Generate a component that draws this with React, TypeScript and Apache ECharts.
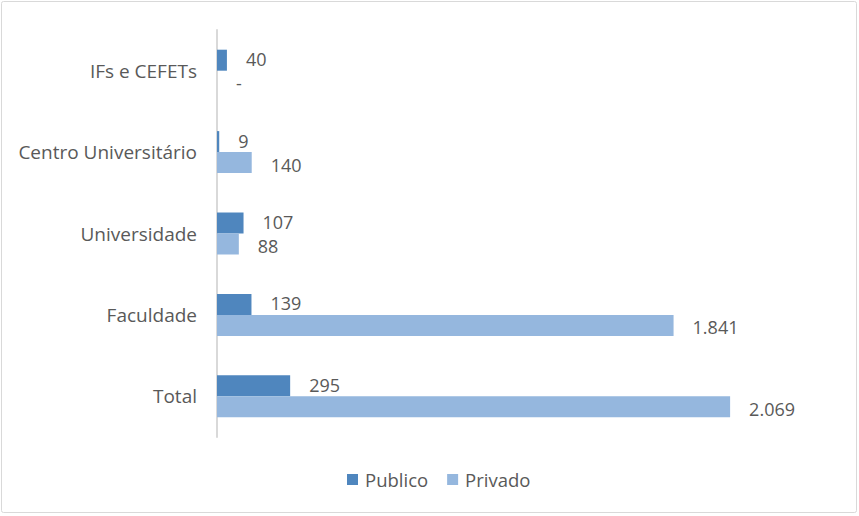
import React, { useEffect, useRef } from "react";
import * as echarts from "echarts";

const categories = ["Total", "Faculdade", "Universidade", "Centro Universitário", "IFs e CEFETs"];
const publico = [295, 139, 107, 9, 40];
const privado = [2069, 1841, 88, 140, 0];
const seriesNames = ["Publico", "Privado"];

const fmt = (v: number) => (v === 0 ? "-" : v.toLocaleString("de-DE"));

export default function App() {
  const ref = useRef<HTMLDivElement>(null);
  useEffect(() => {
    const chart = echarts.init(ref.current!, null, { renderer: "svg" });
    const font = "'Open Sans', 'Noto Sans', sans-serif";
    const labelCfg = (dy: number) => ({
      show: true,
      position: "right" as const,
      distance: 19,
      offset: [0, dy],
      color: "#595959",
      fontSize: 18,
      lineHeight: 16,
      fontFamily: font,
      formatter: (p: any) => fmt(p.value),
    });
    chart.setOption({
      animation: false,
      backgroundColor: "#fff",
      graphic: [
        {
          type: "rect",
          shape: { x: 1.5, y: 1.5, width: 855, height: 511, r: 2 },
          style: { fill: "none", stroke: "#d9d9d9", lineWidth: 1 },
        },
      ],
      grid: { left: 217, right: 22, top: 30, bottom: 79, containLabel: false },
      legend: {
        top: 470,
        left: 347,
        itemWidth: 11,
        itemHeight: 11,
        itemGap: 19,
        icon: "rect",
        padding: 0,
        data: seriesNames,
        textStyle: { color: "#595959", fontSize: 18.5, fontFamily: font, padding: [0, 0, 0, 2] },
      },
      xAxis: {
        type: "value",
        min: 0,
        max: 2500,
        show: false,
        splitLine: { show: false },
      },
      yAxis: {
        type: "category",
        data: categories,
        axisTick: { show: false },
        axisLine: { show: true, lineStyle: { color: "#d9d9d9", width: 2 } },
        axisLabel: { color: "#595959", fontSize: 19, fontFamily: font, margin: 20 },
      },
      series: [
        {
          name: seriesNames[0],
          type: "bar",
          data: publico,
          barWidth: 21,
          barGap: "0%",
          itemStyle: { color: "#4f86be" },
          label: labelCfg(-1),
        },
        {
          name: seriesNames[1],
          type: "bar",
          data: privado,
          barWidth: 21,
          barGap: "0%",
          itemStyle: { color: "#95b7de" },
          label: labelCfg(2),
        },
      ],
    });
    return () => chart.dispose();
  }, []);
  return (
    <div
      ref={ref}
      style={{ position: "fixed", left: 0, top: 0, width: 859, height: 516 }}
    />
  );
}
